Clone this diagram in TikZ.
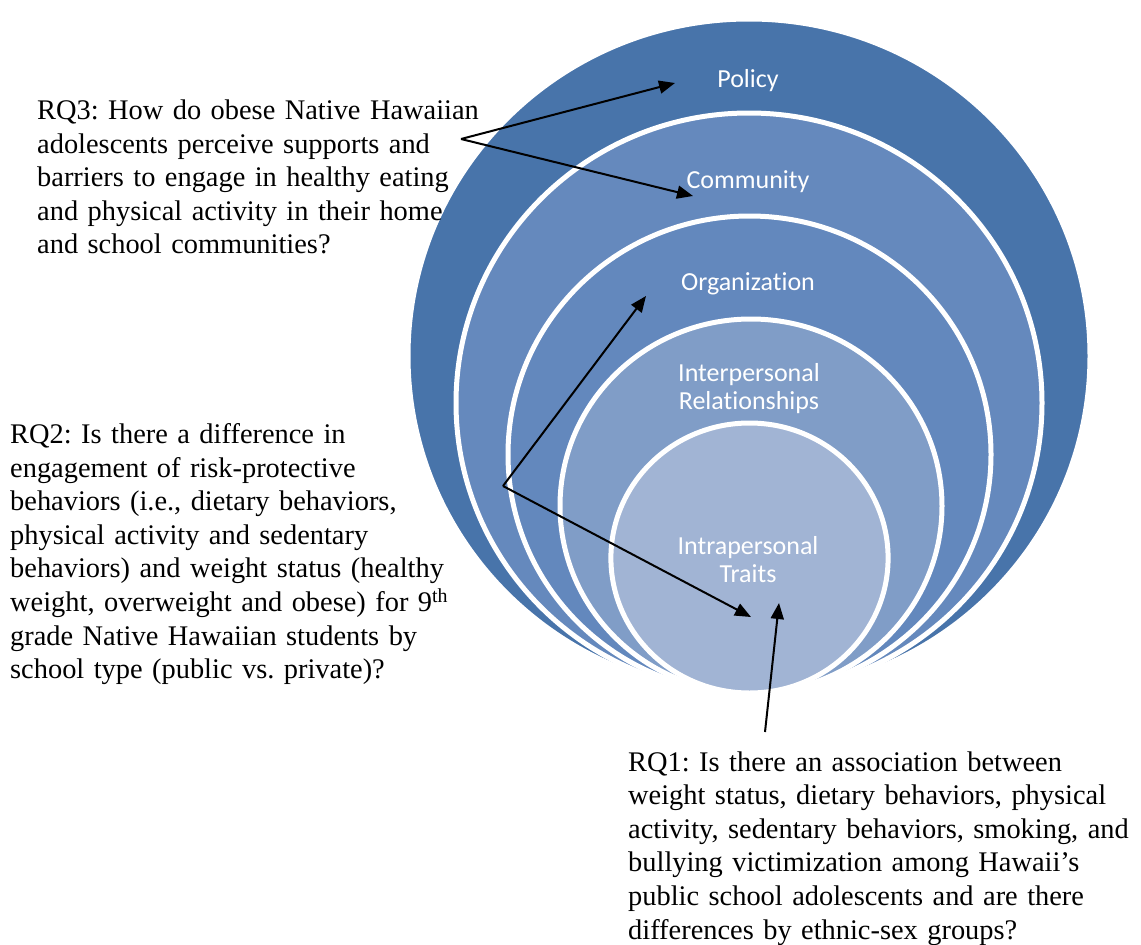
\documentclass[tikz,border=0pt]{standalone}
\usepackage{fontspec}
\setmainfont{Liberation Serif}
\newfontfamily\calfont[Ligatures=NoCommon]{Carlito}
\usetikzlibrary{arrows.meta}
\definecolor{cpol}{HTML}{4874AA}
\definecolor{ccom}{HTML}{6589BD}
\definecolor{corg}{HTML}{6388BD}
\definecolor{cint}{HTML}{809DC7}
\definecolor{ctra}{HTML}{A1B4D4}
\frenchspacing
\tikzset{
  ring/.style={draw=white, line width=5pt},
  lvl/.style={text=white, font=\calfont\fontsize{26}{28.8}\selectfont, text width=260pt, align=center, anchor=base, inner sep=0pt},
  rq/.style={text=black, font=\fontsize{28.4}{33.6}\selectfont, text width=520pt, align=left, anchor=base west, inner sep=0pt},
  conn/.style={draw=black, line width=2pt, -{Triangle[length=16pt,width=13pt]}}
}
\begin{document}
\begin{tikzpicture}[x=1pt,y=-1pt]
\useasboundingbox (0,0) rectangle (1141,945);
\fill[white] (0,0) rectangle (1141,945);
% nested circles
\draw[ring, fill=cpol] (749,356) ellipse [x radius=341, y radius=337];
\draw[ring, fill=ccom] (749,403) ellipse [x radius=293, y radius=290];
\draw[ring, fill=corg] (749.5,454.5) ellipse [x radius=241.5, y radius=238.5];
\draw[ring, fill=cint] (751,506) ellipse [x radius=191, y radius=187];
\draw[ring, fill=ctra] (749.5,558) ellipse [x radius=138.6, y radius=135];
% level labels
\node[lvl] (lpol) at (748,87) {Policy};
\node[lvl] (lcom) at (748,188.5) {Community};
\node[lvl] (lorg) at (748,290) {Organization};
\node[lvl] (lint) at (749,381) {Interpersonal\\Relationships};
\node[lvl] (ltra) at (748,554) {Intrapersonal\\Traits};
% research questions
\node[rq] (rq3) at (37,119.5) {RQ3: How do obese Native Hawaiian\\adolescents perceive supports and\\barriers to engage in healthy eating\\and physical activity in their home\\and school communities?};
\node[rq] (rq2) at (10,443.5) {RQ2: Is there a difference in\\engagement of risk-protective\\behaviors (i.e., dietary behaviors,\\physical activity and sedentary\\behaviors) and weight status (healthy\\weight, overweight and obese) for 9\textsuperscript{th}\\grade Native Hawaiian students by\\school type (public vs. private)?};
\node[rq] (rq1) at (628,771) {RQ1: Is there an association between\\weight status, dietary behaviors, physical\\activity, sedentary behaviors, smoking, and\\bullying victimization among Hawaii’s\\public school adolescents and are there\\differences by ethnic-sex groups?};
% connector points
\coordinate (v3) at (461,139);
\coordinate (t3a) at (675,83);
\coordinate (t3b) at (693,196);
\coordinate (v2) at (503,486);
\coordinate (t2a) at (646,296);
\coordinate (t2b) at (751,617);
\coordinate (s1) at (765,732);
\coordinate (t1) at (779,603);
\draw[conn] (v3) -- (t3a);
\draw[conn] (v3) -- (t3b);
\draw[conn] (v2) -- (t2a);
\draw[conn] (v2) -- (t2b);
\draw[conn] (s1) -- (t1);
\end{tikzpicture}
\end{document}
